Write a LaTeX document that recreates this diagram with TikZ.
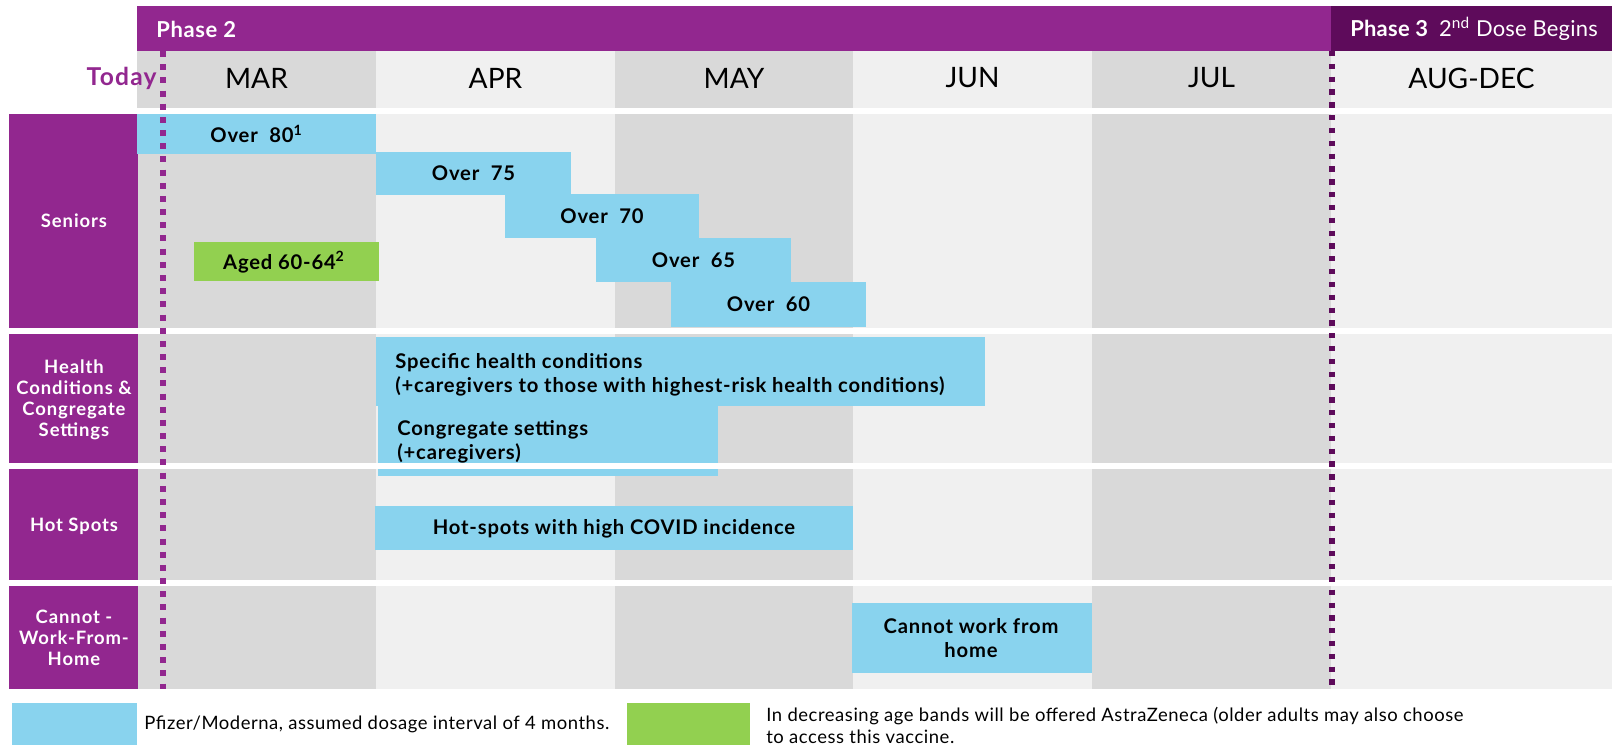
\documentclass[tikz,border=0pt]{standalone}
\usepackage{fontspec}
\setmainfont{Lato}
\definecolor{phasepurple}{HTML}{92278F}
\definecolor{phasedark}{HTML}{5E0B5B}
\definecolor{pfizerblue}{HTML}{89D3EE}
\definecolor{azgreen}{HTML}{92D050}
\definecolor{colgray}{HTML}{D9D9D9}
\definecolor{collight}{HTML}{F0F0F0}

\begin{document}
\begin{tikzpicture}[x=0.02cm,y=-0.02cm,
    month/.style={inner sep=0pt,font=\fontsize{16}{18}\selectfont},
    rowlabel/.style={inner sep=0pt,text=white,align=center,
        font=\bfseries\fontsize{10.5}{12}\selectfont\addfontfeature{LetterSpace=5}},
    boxtext/.style={inner sep=0pt,font=\bfseries\fontsize{11.5}{13.6}\selectfont\addfontfeature{LetterSpace=4}},
    legendtext/.style={inner sep=0pt,anchor=west,align=left,
        font=\fontsize{10.5}{12.5}\selectfont\addfontfeature{LetterSpace=3}},
    todayline/.style={phasepurple,line width=3.4pt,dash pattern=on 3.4pt off 4.1pt},
    phaseline/.style={phasedark,line width=3pt,dash pattern=on 3pt off 4.3pt}]

        \useasboundingbox (0,0) rectangle (1612,744);

        % Month columns, shaded in turn
        \foreach \xa/\xb/\col/\n/\t in {137/376/colgray/mar/MAR, 376/615/collight/apr/APR,
                615/853/colgray/may/MAY, 853/1092/collight/jun/JUN,
                1092/1331/colgray/jul/JUL, 1331/1612/collight/augdec/AUG-DEC}{
            \fill[\col] (\xa,51) rectangle (\xb,689);
            \node[month] (\n) at ({(\xa+\xb)/2},78) {\t};
        }

        % Row labels on the left
        \fill[phasepurple] (9,114) rectangle (138,328);
        \fill[phasepurple] (9,334) rectangle (138,463);
        \fill[phasepurple] (9,469) rectangle (138,580);
        \fill[phasepurple] (9,586) rectangle (138,689);
        \node[rowlabel] (seniors) at (74,221) {Seniors};
        \node[rowlabel] (health) at (74,400) {Health\\Conditions \&\\Congregate\\Settings};
        \node[rowlabel] (hotspots) at (74,526) {Hot Spots};
        \node[rowlabel] (cannot) at (74,638) {Cannot -\\Work-From-\\Home};

        % Seniors, in decreasing age bands
        \foreach \xa/\ya/\xb/\yb/\n/\t in {137/114/376/154/over80/{Over~~80\textsuperscript{1}},
                376/152/571/195/over75/{Over~~75}, 505/194/699/238/over70/{Over~~70},
                596/238/791/282/over65/{Over~~65}, 671/282/866/327/over60/{Over~~60}}{
            \fill[pfizerblue] (\xa,\ya) rectangle (\xb,\yb);
            \node[boxtext] (\n) at ({(\xa+\xb)/2},{(\ya+\yb)/2}) {\t};
        }
        \fill[azgreen] (194,242) rectangle (379,281);
        \node[boxtext] (aged) at (284,262) {Aged 60-64\textsuperscript{2}};

        % Health conditions and congregate settings
        \fill[pfizerblue] (376,337) rectangle (985,406);
        \node[boxtext,anchor=west,align=left] (specific) at (395,375)
            {Specific health conditions\\(+caregivers to those with highest-risk health conditions)};
        \fill[pfizerblue] (378,406) rectangle (718,476);
        \node[boxtext,anchor=west,align=left] (congregate) at (397,442)
            {Congregate settings\\(+caregivers)};

        % Hot spots and cannot work from home
        \fill[pfizerblue] (375,506) rectangle (853,550);
        \node[boxtext] (hotspotbar) at (614,529) {Hot-spots with high COVID incidence};
        \fill[pfizerblue] (852,603) rectangle (1092,673);
        \node[boxtext,align=center] (cannotbar) at (971,638) {Cannot work from\\home};

        % White gaps between the rows
        \foreach \ya in {108,328,463,580}{
            \fill[white] (9,\ya) rectangle (1612,\ya+6);
        }

        % Today and start of phase 3
        \coordinate (todaytop) at (163,51);
        \coordinate (todaybot) at (163,689);
        \coordinate (phasetop) at (1332,51);
        \coordinate (phasebot) at (1332,689);
        \draw[todayline] (todaytop) -- (todaybot);
        \draw[phaseline] (phasetop) -- (phasebot);
        \node[inner sep=0pt,anchor=east,text=phasepurple,
            font=\bfseries\fontsize{14}{16}\selectfont\addfontfeature{LetterSpace=5}]
            (today) at (157,78) {Today};

        % Phase header
        \fill[phasepurple] (137,6) rectangle (1331,51);
        \fill[phasedark] (1331,6) rectangle (1612,51);
        \node[inner sep=0pt,anchor=west,text=white,
            font=\bfseries\fontsize{12.5}{14}\selectfont\addfontfeature{LetterSpace=3}]
            (phase2) at (156,29) {Phase 2};
        \node[inner sep=0pt,anchor=west,text=white,
            font=\fontsize{12.5}{14}\selectfont\addfontfeature{LetterSpace=1}]
            (phase3) at (1350,29) {\textbf{Phase 3}\enspace 2\textsuperscript{nd} Dose Begins};

        % Legend
        \fill[pfizerblue] (12,703) rectangle (137,750);
        \node[legendtext] (pfizerkey) at (144,724) {Pfizer/Moderna, assumed dosage interval of 4 months.};
        \fill[azgreen] (627,703) rectangle (750,750);
        \node[legendtext] (azkey) at (766,725)
            {In decreasing age bands will be offered AstraZeneca (older adults may also choose\\to access this vaccine.};

    \end{tikzpicture}
\end{document}
